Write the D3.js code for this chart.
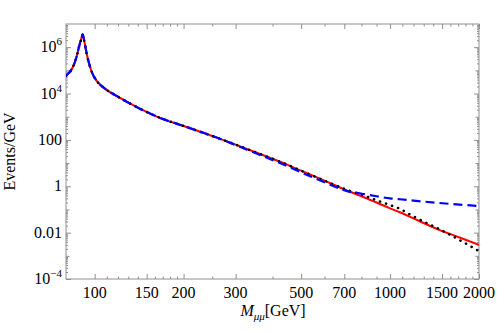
<!DOCTYPE html>
<html>
<head>
<meta charset="utf-8">
<script src="https://cdn.jsdelivr.net/npm/d3@7"></script>
<style>
  body { margin: 0; background: #fff; }
  text { font-family: "Liberation Serif", "Times New Roman", serif; fill: #000; }
</style>
</head>
<body>
<div id="chart"></div>
<script>
const width = 498
const height = 332
const margin = {top: 24, right: 19, bottom: 53, left: 66}

// invariant mass points (GeV)
const mass = [80, 84, 86, 87.1, 88.5, 90, 91.2, 92.3, 93.2, 94.2, 96, 98, 102, 106, 110, 117.5, 137, 154, 168, 200,
              259, 300, 350, 424, 500, 600, 700, 740, 789, 850, 900, 1000, 1079, 1200, 1472, 1718, 2000]

// Events/GeV
const redSolid = [5.9e4, 1.23e5, 2.54e5, 4.39e5, 1.02e6, 2.15e6, 3.5e6, 1.76e6, 9.2e5, 4.6e5, 1.79e5, 7.9e4, 3.31e4, 2.04e4, 1.41e4, 8500, 2850, 1370, 850, 399,
                  126, 62.8, 29.5, 11.5, 4.7, 1.74, 0.74, 0.55, 0.40, 0.27, 0.20, 0.112, 0.076, 0.041, 0.0129, 0.0062, 0.0030]
const blueDashed = [5.9e4, 1.23e5, 2.54e5, 4.39e5, 1.02e6, 2.15e6, 3.5e6, 1.76e6, 9.2e5, 4.6e5, 1.79e5, 7.9e4, 3.31e4, 2.04e4, 1.41e4, 8500, 2850, 1370, 850, 399,
                    126, 60, 27, 10, 4.0, 1.48, 0.68, 0.55, 0.50, 0.42, 0.37, 0.30, 0.275, 0.24, 0.19, 0.162, 0.141]
const blackDotted = [5.9e4, 1.23e5, 2.54e5, 4.39e5, 1.02e6, 2.15e6, 3.5e6, 1.76e6, 9.2e5, 4.6e5, 1.79e5, 7.9e4, 3.31e4, 2.04e4, 1.41e4, 8500, 2850, 1370, 850, 399,
                     126, 62.8, 29.5, 11.5, 4.7, 1.74, 0.78, 0.60, 0.47, 0.33, 0.25, 0.155, 0.107, 0.050, 0.0138, 0.0048, 0.0016]

// ticks
const xTicks = [100, 150, 200, 300, 500, 700, 1000, 1500, 2000]
const xMinor = [110, 120, 130, 140, 160, 170, 180, 190, 250, 400, 600, 800, 900, 1100, 1200, 1300, 1400, 1600, 1700, 1800, 1900]
const yTicks = [1e-4, 1e-2, 1, 100, 1e4, 1e6]
const yTickBase = ["10", "0.01", "1", "100", "10", "10"]
const yTickExp = ["\u22124", "", "", "", "4", "6"]

const frameColor = "#8f8f8f"

const svg = d3.select("#chart")
              .append("svg")
              .attr("width", width)
              .attr("height", height)

const x = d3.scaleLog()
            .domain([80, 2000])
            .range([margin.left, width - margin.right])

const y = d3.scaleLog()
            .domain([1e-4, 1e7])
            .range([height - margin.bottom, margin.top])

// minor y ticks: 2..9 in each decade, plus the decades without label
const yMinor = []
for (let e = -4; e < 7; e++) {
  for (let k = 2; k <= 9; k++) yMinor.push(k * Math.pow(10, e))
}
const yMid = [1e-3, 0.1, 10, 1e3, 1e5]

const x0 = x.range()[0], x1 = x.range()[1]
const y0 = y.range()[1], y1 = y.range()[0]

function tickAxis(axis, tr, size) {
  const g = svg.append("g")
     .attr("transform", tr)
     .call(axis.tickSize(size).tickFormat(""))
  g.select(".domain").remove()
  g.selectAll("line").attr("stroke", frameColor)
  return g
}

// inward ticks on all four sides
tickAxis(d3.axisBottom(x).tickValues(xTicks), `translate(0,${y1})`, -5)
tickAxis(d3.axisBottom(x).tickValues(xMinor), `translate(0,${y1})`, -2.5)
tickAxis(d3.axisTop(x).tickValues(xTicks), `translate(0,${y0})`, -5)
tickAxis(d3.axisTop(x).tickValues(xMinor), `translate(0,${y0})`, -2.5)
tickAxis(d3.axisLeft(y).tickValues(yTicks), `translate(${x0},0)`, -5)
tickAxis(d3.axisLeft(y).tickValues(yMid), `translate(${x0},0)`, -3.5)
tickAxis(d3.axisLeft(y).tickValues(yMinor), `translate(${x0},0)`, -2)
tickAxis(d3.axisRight(y).tickValues(yTicks), `translate(${x1},0)`, -5)
tickAxis(d3.axisRight(y).tickValues(yMid), `translate(${x1},0)`, -3.5)
tickAxis(d3.axisRight(y).tickValues(yMinor), `translate(${x1},0)`, -2)

// frame
svg.append("rect")
   .attr("x", x0)
   .attr("y", y0)
   .attr("width", x1 - x0)
   .attr("height", y1 - y0)
   .attr("fill", "none")
   .attr("stroke", frameColor)
   .attr("stroke-width", 1)

// tick labels
svg.append("g")
   .selectAll("text")
   .data(xTicks)
   .enter()
   .append("text")
   .attr("x", d => x(d))
   .attr("y", y1 + 19)
   .attr("text-anchor", "middle")
   .style("font-size", "16px")
   .text(d => d)

const yLab = svg.append("g")
                .selectAll("text")
                .data(yTicks)
                .enter()
                .append("text")
                .attr("x", x0 - 4)
                .attr("y", d => y(d) + 5)
                .attr("text-anchor", "end")
                .style("font-size", "16px")

yLab.append("tspan").text((d, i) => yTickBase[i])
yLab.append("tspan")
    .attr("dy", "-7")
    .style("font-size", "11px")
    .text((d, i) => yTickExp[i])

// axis titles
svg.append("text")
   .attr("transform", `translate(15,${(y0 + y1) / 2}) rotate(-90)`)
   .attr("text-anchor", "middle")
   .style("font-size", "16px")
   .text("Events/GeV")

const xt = svg.append("text")
              .attr("x", 273)
              .attr("y", 316)
              .attr("text-anchor", "middle")
              .style("font-size", "16px")
xt.append("tspan").style("font-style", "italic").text("M")
xt.append("tspan").attr("dy", 4).style("font-style", "italic").style("font-size", "11px").text("\u03bc\u03bc")
xt.append("tspan").attr("dy", -4).text("[GeV]")

// curves
svg.append("clipPath")
   .attr("id", "clip")
   .append("rect")
   .attr("x", x0)
   .attr("y", y0)
   .attr("width", x1 - x0)
   .attr("height", y1 - y0)

const line = d3.line()
               .x(d => x(d[0]))
               .y(d => y(d[1]))
               .curve(d3.curveMonotoneX)

const curves = [
  {values: redSolid, color: "#ff0000", dash: null, w: 2},
  {values: blackDotted, color: "#000000", dash: "0.1,6.3", w: 2.6},
  {values: blueDashed, color: "#0000ff", dash: "9,5", w: 2.2}
]

const plot = svg.append("g").attr("clip-path", "url(#clip)")

curves.forEach(c => {
  plot.append("path")
      .datum(mass.map((m, i) => [m, c.values[i]]))
      .attr("d", line)
      .attr("fill", "none")
      .attr("stroke", c.color)
      .attr("stroke-width", c.w)
      .attr("stroke-linejoin", "round")
      .attr("stroke-linecap", c.dash && c.dash.startsWith("0.1") ? "round" : "butt")
      .attr("stroke-dasharray", c.dash)
})
</script>
</body>
</html>
